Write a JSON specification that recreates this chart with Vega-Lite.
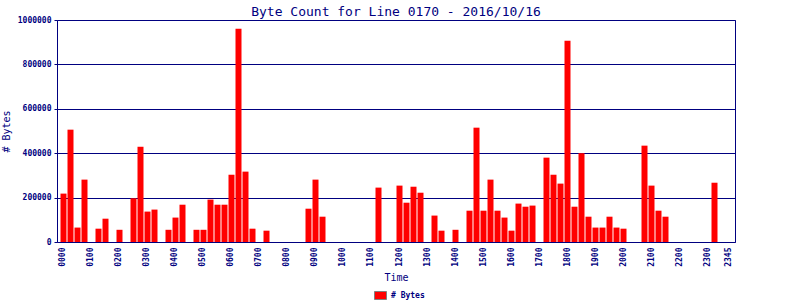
{
  "$schema": "https://vega.github.io/schema/vega-lite/v6.json",
  "width": 678,
  "height": 222,
  "autosize": "none",
  "padding": {"left": 57, "top": 20, "right": 65, "bottom": 58},
  "background": "white",
  "title": {
    "text": "Byte Count for Line 0170 - 2016/10/16",
    "font": "DejaVu Sans Mono",
    "fontSize": 13,
    "fontWeight": "normal",
    "color": "#000080",
    "offset": 0,
    "dy": 3
  },
  "config": {
    "view": {"stroke": "#000080", "strokeWidth": 1},
    "font": "DejaVu Sans Mono"
  },
  "data": {
    "values": [
      {"time": "0000", "bytes": 218000}, {"time": "0015", "bytes": 506000}, {"time": "0030", "bytes": 65000}, {"time": "0045", "bytes": 281000},
      {"time": "0100", "bytes": 0}, {"time": "0115", "bytes": 60000}, {"time": "0130", "bytes": 105000}, {"time": "0145", "bytes": 0},
      {"time": "0200", "bytes": 55000}, {"time": "0215", "bytes": 0}, {"time": "0230", "bytes": 197000}, {"time": "0245", "bytes": 429000},
      {"time": "0300", "bytes": 137000}, {"time": "0315", "bytes": 146000}, {"time": "0330", "bytes": 0}, {"time": "0345", "bytes": 55000},
      {"time": "0400", "bytes": 110000}, {"time": "0415", "bytes": 168000}, {"time": "0430", "bytes": 0}, {"time": "0445", "bytes": 55000},
      {"time": "0500", "bytes": 55000}, {"time": "0515", "bytes": 191000}, {"time": "0530", "bytes": 168000}, {"time": "0545", "bytes": 168000},
      {"time": "0600", "bytes": 303000}, {"time": "0615", "bytes": 961000}, {"time": "0630", "bytes": 317000}, {"time": "0645", "bytes": 60000},
      {"time": "0700", "bytes": 0}, {"time": "0715", "bytes": 51000}, {"time": "0730", "bytes": 0}, {"time": "0745", "bytes": 0},
      {"time": "0800", "bytes": 0}, {"time": "0815", "bytes": 0}, {"time": "0830", "bytes": 0}, {"time": "0845", "bytes": 150000},
      {"time": "0900", "bytes": 281000}, {"time": "0915", "bytes": 114000}, {"time": "0930", "bytes": 0}, {"time": "0945", "bytes": 0},
      {"time": "1000", "bytes": 0}, {"time": "1015", "bytes": 0}, {"time": "1030", "bytes": 0}, {"time": "1045", "bytes": 0},
      {"time": "1100", "bytes": 0}, {"time": "1115", "bytes": 245000}, {"time": "1130", "bytes": 0}, {"time": "1145", "bytes": 0},
      {"time": "1200", "bytes": 254000}, {"time": "1215", "bytes": 177000}, {"time": "1230", "bytes": 249000}, {"time": "1245", "bytes": 222000},
      {"time": "1300", "bytes": 0}, {"time": "1315", "bytes": 119000}, {"time": "1330", "bytes": 51000}, {"time": "1345", "bytes": 0},
      {"time": "1400", "bytes": 55000}, {"time": "1415", "bytes": 0}, {"time": "1430", "bytes": 141000}, {"time": "1445", "bytes": 515000},
      {"time": "1500", "bytes": 141000}, {"time": "1515", "bytes": 281000}, {"time": "1530", "bytes": 141000}, {"time": "1545", "bytes": 110000},
      {"time": "1600", "bytes": 51000}, {"time": "1615", "bytes": 173000}, {"time": "1630", "bytes": 159000}, {"time": "1645", "bytes": 164000},
      {"time": "1700", "bytes": 0}, {"time": "1715", "bytes": 380000}, {"time": "1730", "bytes": 303000}, {"time": "1745", "bytes": 263000},
      {"time": "1800", "bytes": 907000}, {"time": "1815", "bytes": 159000}, {"time": "1830", "bytes": 400000}, {"time": "1845", "bytes": 114000},
      {"time": "1900", "bytes": 65000}, {"time": "1915", "bytes": 65000}, {"time": "1930", "bytes": 114000}, {"time": "1945", "bytes": 65000},
      {"time": "2000", "bytes": 60000}, {"time": "2015", "bytes": 0}, {"time": "2030", "bytes": 0}, {"time": "2045", "bytes": 434000},
      {"time": "2100", "bytes": 254000}, {"time": "2115", "bytes": 141000}, {"time": "2130", "bytes": 114000}, {"time": "2145", "bytes": 0},
      {"time": "2200", "bytes": 0}, {"time": "2215", "bytes": 0}, {"time": "2230", "bytes": 0}, {"time": "2245", "bytes": 0},
      {"time": "2300", "bytes": 0}, {"time": "2315", "bytes": 267000}, {"time": "2330", "bytes": 0}, {"time": "2345", "bytes": 0}
    ]
  },
  "mark": {"type": "bar"},
  "encoding": {
    "x": {
      "field": "time",
      "type": "ordinal",
      "sort": null,
      "scale": {"paddingInner": 0.143, "paddingOuter": 0.5},
      "axis": {
        "title": "Time",
        "titleFont": "DejaVu Sans Mono",
        "titleFontSize": 10,
        "titleFontWeight": "normal",
        "titleColor": "#000080",
        "titlePadding": 6,
        "values": ["0000", "0100", "0200", "0300", "0400", "0500", "0600", "0700", "0800", "0900", "1000", "1100", "1200", "1300", "1400", "1500", "1600", "1700", "1800", "1900", "2000", "2100", "2200", "2300", "2345"],
        "labelAngle": 270,
        "labelAlign": "right",
        "labelBaseline": "middle",
        "labelFont": "DejaVu Sans Mono",
        "labelFontSize": 8,
        "labelFontWeight": "bold",
        "labelColor": "#000080",
        "labelPadding": 5,
        "ticks": false,
        "domain": false,
        "grid": false
      }
    },
    "y": {
      "field": "bytes",
      "type": "quantitative",
      "scale": {"domain": [0, 1000000], "nice": false},
      "axis": {
        "title": "# Bytes",
        "titleFont": "DejaVu Sans Mono",
        "titleFontSize": 10,
        "titleFontWeight": "normal",
        "titleColor": "#000080",
        "titlePadding": 6,
        "values": [0, 200000, 400000, 600000, 800000, 1000000],
        "format": "d",
        "labelFont": "DejaVu Sans Mono",
        "labelFontSize": 8,
        "labelFontWeight": "bold",
        "labelColor": "#000080",
        "labelPadding": 3,
        "ticks": true,
        "tickSize": 3,
        "tickColor": "#000080",
        "domain": false,
        "grid": true,
        "gridColor": "#000080",
        "gridOpacity": 1,
        "gridWidth": 1
      }
    },
    "color": {
      "datum": "# Bytes",
      "scale": {"range": ["#ff0000"]},
      "legend": {
        "title": null,
        "orient": "none",
        "legendX": 317,
        "legendY": 269,
        "padding": 0,
        "symbolType": "M-1,-0.667H1V0.667H-1Z",
        "symbolSize": 144,
        "symbolStrokeColor": "#808080",
        "symbolStrokeWidth": 1,
        "symbolOpacity": 1,
        "symbolFillColor": "#ff0000",
        "labelFont": "DejaVu Sans Mono",
        "labelFontSize": 8,
        "labelFontWeight": "bold",
        "labelColor": "#000080",
        "labelOffset": 4
      }
    }
  }
}
